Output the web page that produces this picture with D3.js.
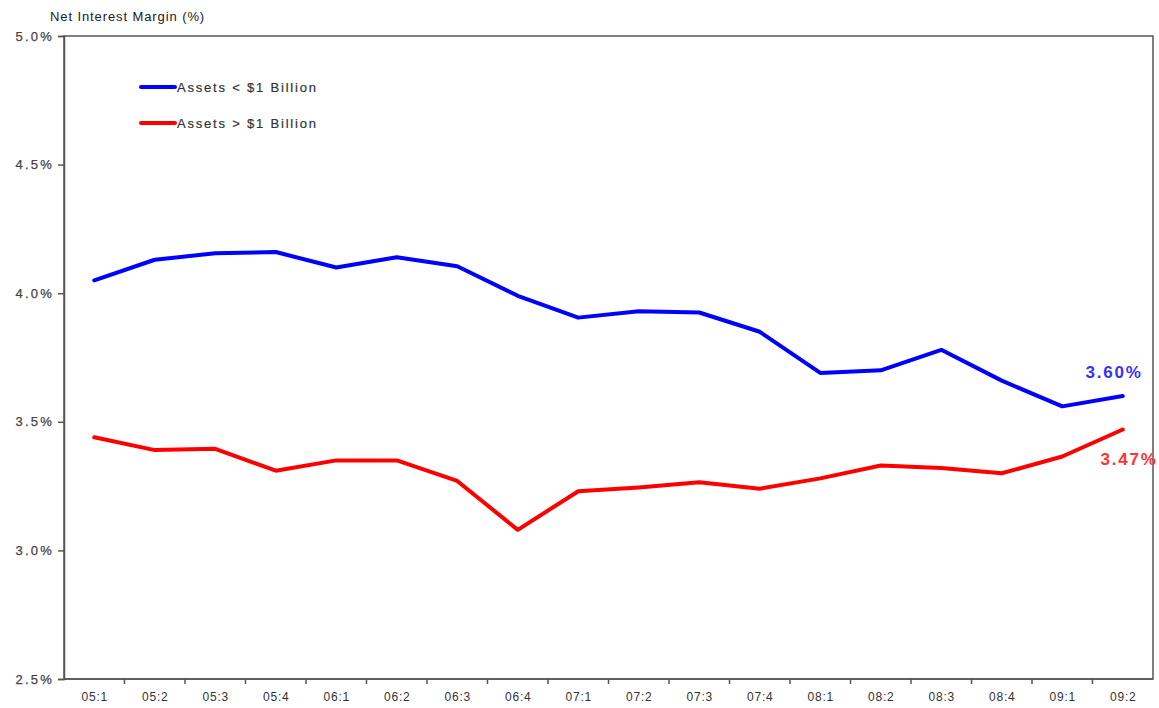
<!DOCTYPE html>
<html><head><meta charset="utf-8">
<script src="https://cdn.jsdelivr.net/npm/d3@7/dist/d3.min.js"></script>
<style>
body{margin:0;background:#fff;}
text{font-family:"Liberation Sans",Arial,sans-serif;}
</style></head>
<body><svg id="c" width="1159" height="708"></svg>
<script>
const categories = ["05:1","05:2","05:3","05:4","06:1","06:2","06:3","06:4","07:1","07:2","07:3","07:4","08:1","08:2","08:3","08:4","09:1","09:2"];
const small = [4.05,4.13,4.155,4.16,4.10,4.14,4.105,3.99,3.905,3.93,3.925,3.85,3.69,3.70,3.78,3.66,3.56,3.60];
const large = [3.44,3.39,3.395,3.31,3.35,3.35,3.27,3.08,3.23,3.245,3.265,3.24,3.28,3.33,3.32,3.30,3.365,3.47];
const yTicks = [2.5,3.0,3.5,4.0,4.5,5.0];
const seriesNames = ["Assets < $1 Billion","Assets > $1 Billion"];

const svg = d3.select("#c");
const L=64,R=1153,T=36,B=679;
const x = d3.scaleBand().domain(categories).range([L,R]);
const y = d3.scaleLinear().domain([2.5,5.0]).range([B,T]);

// frame
svg.append("rect").attr("x",L).attr("y",T).attr("width",R-L).attr("height",B-T)
  .attr("fill","none").attr("stroke","#555").attr("stroke-width",1.5);

// y axis
const ya = svg.append("g").attr("transform",`translate(${L},0)`)
  .call(d3.axisLeft(y).tickValues(yTicks).tickFormat(d=>d.toFixed(1)+"%").tickSize(6).tickPadding(4));
ya.select(".domain").attr("stroke","#555").attr("stroke-width",1.5);
ya.selectAll(".tick line").attr("stroke","#555").attr("stroke-width",1.5);
ya.selectAll("text").attr("font-size",13).attr("fill","#444").attr("letter-spacing",2.2)
  .attr("stroke","#444").attr("stroke-width",0.25);

// x axis: ticks at band boundaries
const xa = svg.append("g").attr("transform",`translate(0,${B})`);
xa.append("line").attr("x1",L).attr("x2",R).attr("stroke","#555").attr("stroke-width",1.5);
xa.selectAll("line.tk").data(categories.slice(1)).join("line").attr("class","tk")
  .attr("x1",d=>x(d)).attr("x2",d=>x(d)).attr("y1",0).attr("y2",5).attr("stroke","#555").attr("stroke-width",1.5);
xa.selectAll("text").data(categories).join("text")
  .attr("x",d=>x(d)+x.bandwidth()/2+0.5).attr("y",22).attr("text-anchor","middle")
  .attr("font-size",12).attr("letter-spacing",0.8).attr("fill","#333").text(d=>d);

// title
svg.append("text").attr("x",50).attr("y",21).attr("font-size",13).attr("letter-spacing",0.9)
  .attr("fill","#222").text("Net Interest Margin (%)");

const line = d3.line().x((d,i)=>x(categories[i])+x.bandwidth()/2).y(d=>y(d));
const colors=["#0000ff","#ff0000"];
[small,large].forEach((s,k)=>{
  svg.append("path").datum(s).attr("d",line).attr("fill","none")
    .attr("stroke",colors[k]).attr("stroke-width",4).attr("stroke-linejoin","round").attr("stroke-linecap","round");
});

// legend
seriesNames.forEach((n,k)=>{
  const ly = 87+k*36;
  svg.append("line").attr("x1",141).attr("x2",175).attr("y1",ly).attr("y2",ly)
    .attr("stroke",colors[k]).attr("stroke-width",4).attr("stroke-linecap","round");
  svg.append("text").attr("x",177).attr("y",ly+5).attr("font-size",13).attr("letter-spacing",1.8)
    .attr("fill","#333").attr("stroke","#333").attr("stroke-width",0.2).text(n);
});

// end labels
const last = categories.length-1;
svg.append("text").attr("x",1114).attr("y",378).attr("text-anchor","middle")
  .attr("font-size",17).attr("font-weight","bold").attr("letter-spacing",1.8).attr("fill","#3333ff").text(small[last].toFixed(2)+"%");
svg.append("text").attr("x",1129).attr("y",465).attr("text-anchor","middle")
  .attr("font-size",17).attr("font-weight","bold").attr("letter-spacing",1.8).attr("fill","#ff3333").text(large[last].toFixed(2)+"%");
</script></body></html>
